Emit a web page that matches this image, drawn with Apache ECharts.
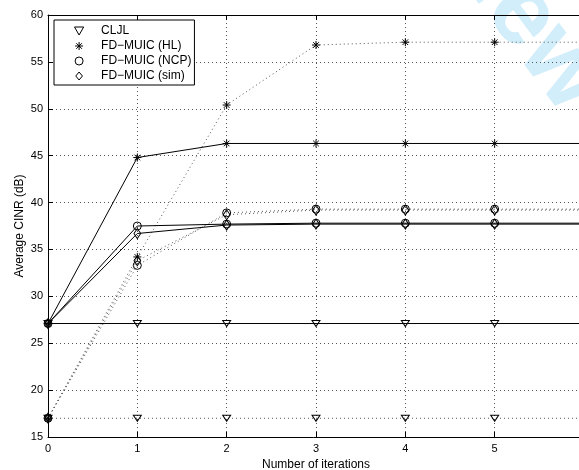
<!DOCTYPE html>
<html>
<head>
<meta charset="utf-8">
<script src="https://cdn.jsdelivr.net/npm/echarts@6/dist/echarts.min.js"></script>
<style>html,body{margin:0;padding:0;background:#fff;}#c{width:579px;height:470px;}</style>
</head>
<body>
<div id="c"></div>
<script>
// ---- data ----
const iterations = [0, 1, 2, 3, 4, 5, 6];
const xTickLabels = ['0', '1', '2', '3', '4', '5', '6'];
const legendNames = ['CLJL', 'FD\u2212MUIC (HL)', 'FD\u2212MUIC (NCP)', 'FD\u2212MUIC (sim)'];
// solid-line scenario
const cljlSolid = [27.1, 27.1, 27.1, 27.1, 27.1, 27.1, 27.1];
const hlSolid   = [27.1, 44.8, 46.3, 46.3, 46.3, 46.3, 46.3];
const ncpSolid  = [27.1, 37.5, 37.7, 37.8, 37.8, 37.8, 37.8];
const simSolid  = [27.1, 36.7, 37.6, 37.7, 37.7, 37.7, 37.7];
// dotted-line scenario
const cljlDotted = [17.0, 17.0, 17.0, 17.0, 17.0, 17.0, 17.0];
const hlDotted   = [17.0, 34.2, 50.4, 56.8, 57.1, 57.1, 57.1];
const ncpDotted  = [17.0, 33.3, 38.9, 39.3, 39.3, 39.3, 39.3];
const simDotted  = [17.0, 33.8, 38.7, 39.2, 39.2, 39.2, 39.2];

// ---- styles ----
const FONT = "'Liberation Sans', Arial, Helvetica, sans-serif";
const triDown = 'path://M0,0 L10,0 L5,8.7 Z';
const aster = 'path://M5,0 L5,10 M0,5 L10,5 M1.5,1.5 L8.5,8.5 M8.5,1.5 L1.5,8.5';
const diamond = 'path://M5,0 L10,6 L5,12 L0,6 Z';
const symbols = [triDown, aster, 'circle', diamond];
const symSizes = [[8, 7], 8, 8, [8, 10]];
const fills = ['rgba(0,0,0,0)', '#000', 'rgba(0,0,0,0)', 'rgba(0,0,0,0)'];

function pairs(ys) { return iterations.map((x, i) => [x, ys[i]]); }

const solidSets = [cljlSolid, hlSolid, ncpSolid, simSolid];
const dottedSets = [cljlDotted, hlDotted, ncpDotted, simDotted];

const series = [];
function addSeries(sets, dotted) {
  sets.forEach((ys, k) => {
    series.push({
      name: legendNames[k],
      type: 'line',
      data: pairs(ys),
      symbol: symbols[k],
      symbolSize: symSizes[k],
      symbolKeepAspect: true,
      showAllSymbol: true,
      clip: true,
      animation: false,
      z: dotted ? 3 : 4,
      lineStyle: dotted ? { color: '#555', width: 1, type: [1, 3] } : { color: '#000', width: 1 },
      itemStyle: { color: fills[k], borderColor: '#000', borderWidth: 1 },
      emphasis: { disabled: true }
    });
  });
}
addSeries(solidSets, false);
addSeries(dottedSets, true);

const chart = echarts.init(document.getElementById('c'), null, { renderer: 'canvas' });
chart.setOption({
  backgroundColor: '#fff',
  animation: false,
  textStyle: { fontFamily: FONT },
  graphic: [
    {
      type: 'text', z: -10, silent: true,
      x: 585, y: 100, rotation: -0.93,
      style: { text: 'Review', fill: '#d3eefb', font: "bold 100px " + FONT, align: 'right', verticalAlign: 'middle' }
    },
    {
      type: 'text', x: 20, y: 226, rotation: Math.PI / 2,
      style: { text: 'Average CINR (dB)', fill: '#000', font: "12px " + FONT, align: 'center', verticalAlign: 'middle' }
    }
  ],
  grid: { left: 48, top: 15, right: -5, bottom: 33, show: false, outerBoundsMode: 'none', containLabel: false },
  legend: {
    orient: 'vertical', left: 54, top: 20,
    padding: [5, 3, 3, 20], itemGap: 3, itemWidth: 34, itemHeight: 8,
    borderColor: '#000', borderWidth: 1, backgroundColor: '#fff',
    selectedMode: false,
    textStyle: { fontFamily: FONT, fontSize: 12, color: '#000', lineHeight: 12 },
    data: legendNames.map((n, k) => ({
      name: n, icon: symbols[k],
      itemStyle: { color: fills[k], borderColor: '#000', borderWidth: 1 }
    }))
  },
  xAxis: [
    {
      type: 'value', min: 0, max: 6, interval: 1, position: 'bottom',
      name: 'Number of iterations', nameLocation: 'middle', nameGap: 14,
      nameTextStyle: { fontFamily: FONT, fontSize: 12, color: '#000' },
      axisLine: { show: true, onZero: false, lineStyle: { color: '#000', width: 1 } },
      axisTick: { show: true, inside: true, length: 5, lineStyle: { color: '#000' } },
      axisLabel: { fontFamily: FONT, fontSize: 11, color: '#000', margin: 6,
        formatter: (v) => xTickLabels[iterations.indexOf(v)] },
      splitLine: { show: true, lineStyle: { color: '#555', width: 1, type: [1, 3] } }
    },
    {
      type: 'value', min: 0, max: 6, interval: 1, position: 'top',
      axisLine: { show: true, onZero: false, lineStyle: { color: '#000', width: 1 } },
      axisTick: { show: true, inside: true, length: 5, lineStyle: { color: '#000' } },
      axisLabel: { show: false }, splitLine: { show: false }
    }
  ],
  yAxis: [
    {
      type: 'value', min: 15, max: 60, interval: 5,
      axisLine: { show: true, onZero: false, lineStyle: { color: '#000', width: 1 } },
      axisTick: { show: true, inside: true, length: 5, lineStyle: { color: '#000' } },
      axisLabel: { fontFamily: FONT, fontSize: 11, color: '#000', margin: 5 },
      splitLine: { show: true, lineStyle: { color: '#555', width: 1, type: [1, 3] } }
    }
  ],
  series: series
});
</script>
</body>
</html>
